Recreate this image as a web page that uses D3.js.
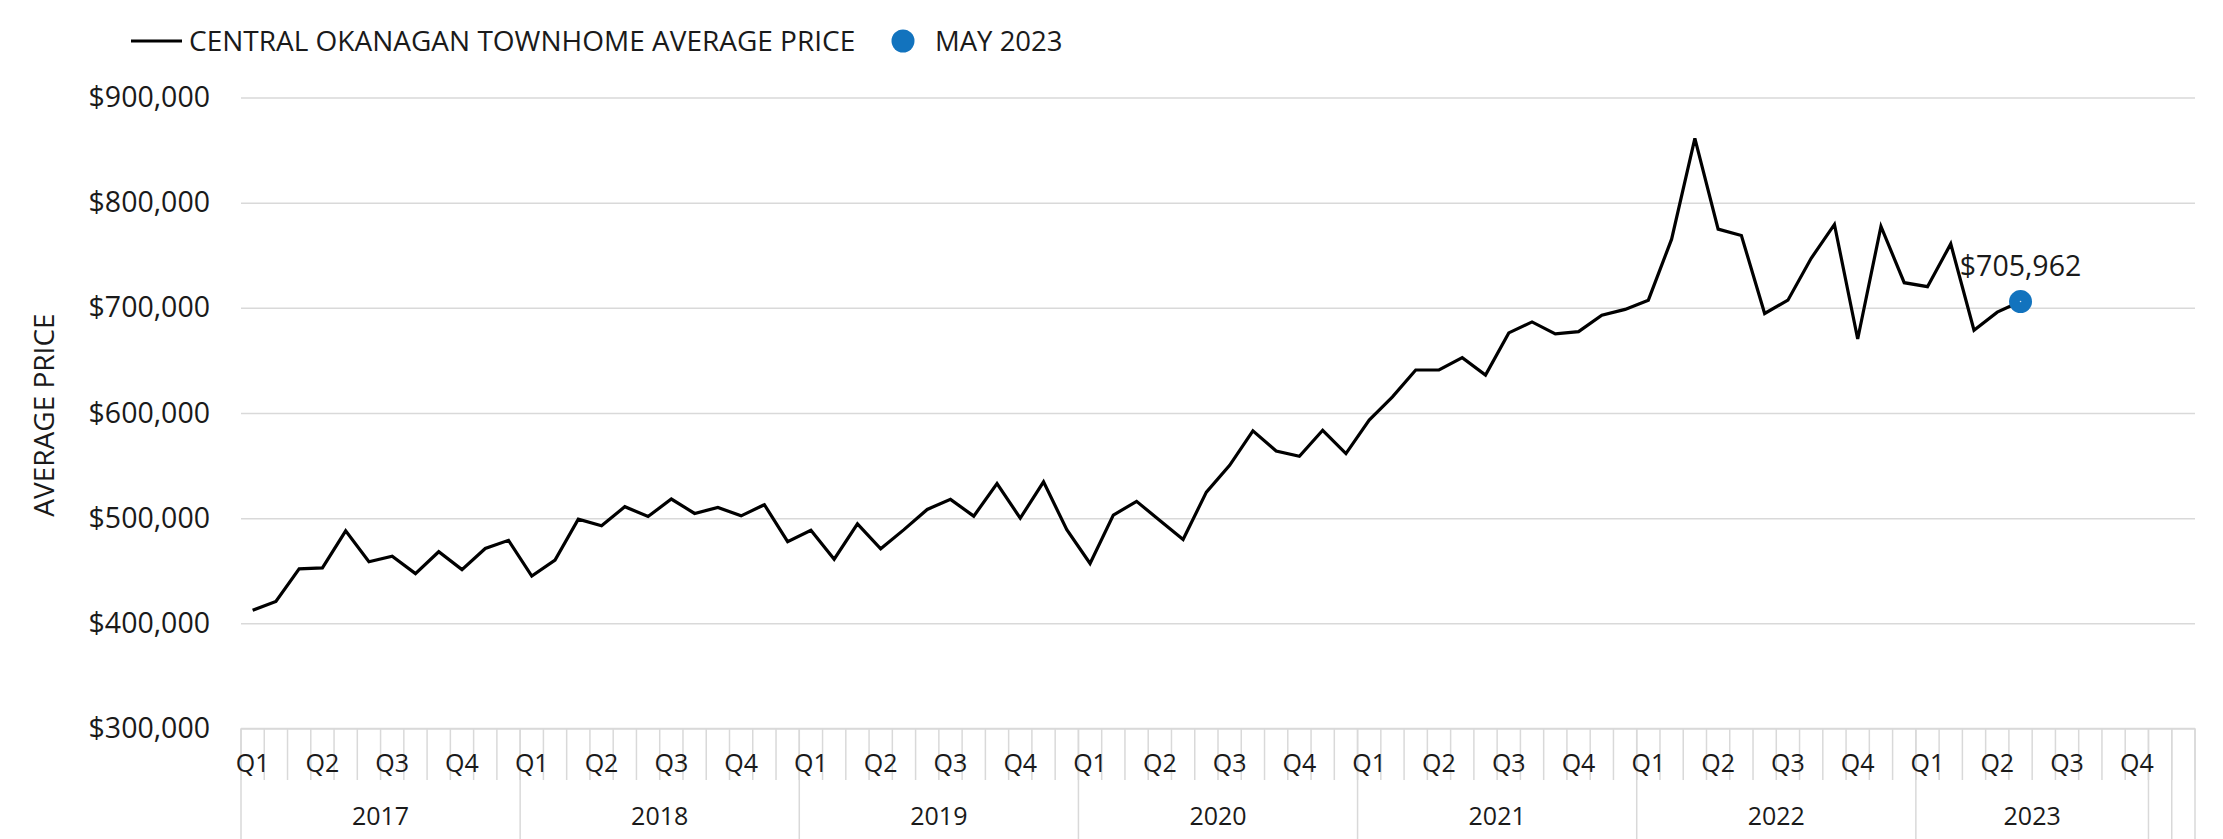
<!DOCTYPE html>
<html>
<head>
<meta charset="utf-8">
<script src="https://cdn.jsdelivr.net/npm/d3@7"></script>
<style>
  body { margin: 0; background: #fff; }
  svg text { font-family: "Open Sans", sans-serif; fill: #1a1a1a; }
</style>
</head>
<body>
<div id="chart"></div>
<script>
// monthly average price, Jan 2017 .. May 2023
const prices = [
  412500, 420800, 451800, 452700, 487900, 458500, 463900, 447300, 468100, 451100, 471200, 478900,
  445000, 460100, 499000, 492700, 510900, 501600, 518200, 504500, 510200, 502200, 512800, 477600,
  488500, 461000, 494600, 470900, 489100, 508300, 517900, 501900, 532900, 500000, 534500, 489100,
  456900, 502900, 516000, 497800, 479700, 524800, 550200, 583000, 563900, 558800, 583600, 561400,
  593200, 615400, 640900, 640900, 652600, 636100, 676200, 686600, 675200, 677400, 693000, 698500,
  707300, 765300, 861100, 774800, 768800, 694600, 707300, 747100, 779300, 670400, 777400, 723900,
  720100, 760800, 678700, 695900, 705962
];
const yearLabels = ["2017", "2018", "2019", "2020", "2021", "2022", "2023", "", ""];
const yearSpans = [12, 12, 12, 12, 12, 12, 10, 1, 1];
const quarterLabels = ["Q1", "Q2", "Q3", "Q4"];
const yTicks = [300000, 400000, 500000, 600000, 700000, 800000, 900000];
const seriesName = "CENTRAL OKANAGAN TOWNHOME AVERAGE PRICE";
const highlightName = "MAY 2023";
const highlightIndex = 76;
const yTitle = "AVERAGE PRICE";

const width = 2223, height = 839;
const plot = { left: 241, right: 2195, top: 97.5, bottom: 728.5 };
const gridColor = "#d9d9d9";
const markerColor = "#1273be";

const monthCount = d3.sum(yearSpans);

const svg = d3.select("#chart").append("svg")
  .attr("width", width)
  .attr("height", height);

const x = d3.scaleBand()
  .domain(d3.range(monthCount))
  .range([plot.left, plot.right])
  .paddingInner(0)
  .paddingOuter(0);

const y = d3.scaleLinear()
  .domain([300000, 900000])
  .range([plot.bottom, plot.top]);

const xc = i => x(i) + x.bandwidth() / 2;
const edge = i => i < monthCount ? x(i) : plot.right;

// horizontal gridlines + y labels
const yAxis = d3.axisLeft(y)
  .tickValues(yTicks)
  .tickSize(-(plot.right - plot.left))
  .tickPadding(31)
  .tickFormat(d => "$" + d3.format(",")(d));

svg.append("g")
  .attr("transform", `translate(${plot.left},0)`)
  .call(yAxis)
  .call(g => g.select(".domain").remove())
  .call(g => g.selectAll(".tick line").attr("stroke", gridColor).attr("stroke-width", 1.5))
  .call(g => g.selectAll(".tick text")
    .style("font-size", "28.5px")
    .attr("fill", "#1a1a1a"));

// y title
svg.append("text")
  .attr("transform", `translate(44, ${(plot.top + plot.bottom) / 2 + 2}) rotate(-90)`)
  .attr("text-anchor", "middle")
  .attr("dy", "0.35em")
  .style("font-size", "28px")
  .text(yTitle);

// month ticks
svg.append("g").selectAll("line")
  .data(d3.range(monthCount + 1))
  .join("line")
  .attr("x1", edge).attr("x2", edge)
  .attr("y1", plot.bottom).attr("y2", 780)
  .attr("stroke", gridColor)
  .attr("stroke-width", 1.5);

// year groups
const groupStarts = Array.from(d3.cumsum([0].concat(yearSpans))).slice(0, yearSpans.length);
const groups = yearLabels.map((label, i) => ({ label, start: groupStarts[i], span: yearSpans[i] }));
const groupEdges = groupStarts.concat([monthCount]);

svg.append("g").selectAll("line")
  .data(groupEdges)
  .join("line")
  .attr("x1", edge).attr("x2", edge)
  .attr("y1", plot.bottom).attr("y2", height)
  .attr("stroke", gridColor)
  .attr("stroke-width", 1.5);

// quarter labels
const quarters = [];
groups.filter(g => g.label).forEach(g => {
  quarterLabels.forEach((q, k) => {
    if (k * 3 < g.span) quarters.push({ label: q, idx: g.start + k * 3 });
  });
});

svg.append("g").selectAll("text")
  .data(quarters)
  .join("text")
  .attr("x", d => xc(d.idx))
  .attr("y", 763)
  .attr("dy", "0.35em")
  .attr("text-anchor", "middle")
  .style("font-size", "25px")
  .text(d => d.label);

svg.append("g").selectAll("text")
  .data(groups.filter(g => g.label))
  .join("text")
  .attr("x", d => (edge(d.start) + edge(d.start + d.span)) / 2)
  .attr("y", 816)
  .attr("dy", "0.35em")
  .attr("text-anchor", "middle")
  .style("font-size", "25px")
  .text(d => d.label);

// axis line at bottom of plot
svg.append("line")
  .attr("x1", plot.left).attr("x2", plot.right)
  .attr("y1", y(300000)).attr("y2", y(300000))
  .attr("stroke", gridColor)
  .attr("stroke-width", 1.5);

// the line
const line = d3.line()
  .x((d, i) => xc(i))
  .y(d => y(d));

svg.append("path")
  .datum(prices)
  .attr("d", line)
  .attr("fill", "none")
  .attr("stroke", "#000")
  .attr("stroke-width", 3.2)
  .attr("stroke-linejoin", "miter");

// highlighted point
const hx = xc(highlightIndex), hy = y(prices[highlightIndex]);
svg.append("circle")
  .attr("cx", hx).attr("cy", hy)
  .attr("r", 11.5)
  .attr("fill", markerColor);
svg.append("circle")
  .attr("cx", hx).attr("cy", hy)
  .attr("r", 0.8)
  .attr("fill", "#cfe3f3");

svg.append("text")
  .attr("x", hx)
  .attr("y", hy - 26)
  .attr("text-anchor", "middle")
  .style("font-size", "28.5px")
  .text("$" + d3.format(",")(prices[highlightIndex]));

// legend
const legend = svg.append("g");
legend.append("line")
  .attr("x1", 131).attr("x2", 182)
  .attr("y1", 41).attr("y2", 41)
  .attr("stroke", "#000")
  .attr("stroke-width", 3.2);
legend.append("text")
  .attr("x", 189).attr("y", 41)
  .attr("dy", "0.35em")
  .style("font-size", "28px")
  .text(seriesName);
legend.append("circle")
  .attr("cx", 903).attr("cy", 41)
  .attr("r", 11.5)
  .attr("fill", markerColor);
legend.append("text")
  .attr("x", 935).attr("y", 41)
  .attr("dy", "0.35em")
  .style("font-size", "27.5px")
  .text(highlightName);
</script>
</body>
</html>
